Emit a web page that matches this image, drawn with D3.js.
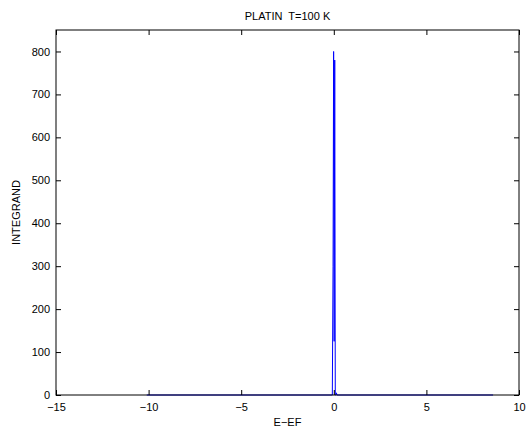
<!DOCTYPE html>
<html lang="en">
<head>
    <meta charset="utf-8">
    <title>PLATIN</title>
    <script src="https://cdn.jsdelivr.net/npm/d3@7"></script>
    <style>
        body { margin: 0; background: #fff; }
        text { font-family: "Liberation Sans", Arial, sans-serif; fill: #000; }
        .tick text { font-size: 11px; }
        .title { white-space: pre; }
    </style>
</head>
<body>
    <div id="chart"></div>
    <script>
        // energy relative to Fermi level, and the integrand
        var energy = [-10.1, -0.08, -0.04, -0.01, 0.02, 0.05, 0.08, 0.11, 0.14, 0.17, 8.6];
        var integrand = [0, 0, 300, 800, 125, 780, 0, 0, 5, 0, 0];
        var xTicks = [-15, -10, -5, 0, 5, 10];
        var yTicks = [0, 100, 200, 300, 400, 500, 600, 700, 800];

        var svgWidth = 528, svgHeight = 437;
        // plot box (note: "top" is reserved on window, so use other names)
        var boxLeft = 56, boxRight = 519, boxTop = 30, boxBottom = 395;

        var svg = d3.select('#chart').append('svg')
            .attr('width', svgWidth)
            .attr('height', svgHeight);

        var x = d3.scaleLinear().domain([-15, 10]).range([boxLeft, boxRight]);
        var y = d3.scaleLinear().domain([0, 850]).range([boxBottom, boxTop]);

        var fmt = function (d) { return String(d).replace('-', '\u2212'); };

        // the data line
        var data = energy.map(function (e, i) { return [e, integrand[i]]; });
        svg.append('path')
            .datum(data)
            .attr('fill', 'none')
            .attr('stroke', '#0000ff')
            .attr('stroke-width', 1)
            .attr('d', d3.line().x(function (d) { return x(d[0]); }).y(function (d) { return y(d[1]); }));

        // axes, ticks pointing inwards like matlab
        svg.append('g')
            .attr('transform', `translate(0,${boxBottom})`)
            .call(d3.axisBottom(x).tickValues(xTicks).tickSize(-5).tickPadding(8).tickFormat(fmt))
            .call(function (g) { g.select('.domain').remove(); });
        svg.append('g')
            .attr('transform', `translate(0,${boxTop})`)
            .call(d3.axisTop(x).tickValues(xTicks).tickSize(-5).tickFormat(''))
            .call(function (g) { g.select('.domain').remove(); });
        svg.append('g')
            .attr('transform', `translate(${boxLeft},0)`)
            .call(d3.axisLeft(y).tickValues(yTicks).tickSize(-5).tickPadding(6).tickFormat(fmt))
            .call(function (g) { g.select('.domain').remove(); });
        svg.append('g')
            .attr('transform', `translate(${boxRight},0)`)
            .call(d3.axisRight(y).tickValues(yTicks).tickSize(-5).tickFormat(''))
            .call(function (g) { g.select('.domain').remove(); });

        svg.selectAll('.tick line').attr('stroke', '#000');

        svg.append('rect')
            .attr('x', boxLeft).attr('y', boxTop)
            .attr('width', boxRight - boxLeft).attr('height', boxBottom - boxTop)
            .attr('fill', 'none')
            .attr('stroke', '#000')
            .attr('stroke-width', 1);

        svg.append('text')
            .attr('class', 'title')
            .attr('x', (boxLeft + boxRight) / 2).attr('y', 20)
            .attr('text-anchor', 'middle')
            .style('font-size', '11px')
            .text('PLATIN  T=100 K');

        svg.append('text')
            .attr('x', (boxLeft + boxRight) / 2).attr('y', 426)
            .attr('text-anchor', 'middle')
            .style('font-size', '11px')
            .text('E\u2212EF');

        svg.append('text')
            .attr('transform', `translate(20,${(boxTop + boxBottom) / 2}) rotate(-90)`)
            .attr('text-anchor', 'middle')
            .style('font-size', '11px')
            .text('INTEGRAND');
    </script>
</body>
</html>
